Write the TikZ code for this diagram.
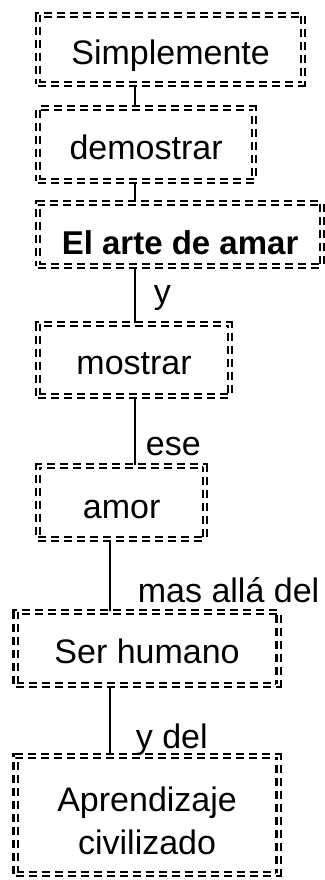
\documentclass[tikz,border=0pt]{standalone}
\usepackage{fontspec}
\setmainfont{Liberation Sans}
\usepackage{tikz}
\usetikzlibrary{positioning}

\begin{document}
\begin{tikzpicture}[
  x=1pt,y=-1pt,
  style1/.style={
    draw,
    double,
    double distance=2pt,
    line width=2.2pt,
    dash pattern=on 8pt off 5pt,
    anchor=north west,
    inner sep=0pt,
    align=center,
    minimum width=#1,
    font=\fontsize{34}{43}\selectfont,
    },
  style2/.style={
    inner sep=0pt,
    anchor=base west,
    font=\fontsize{34}{43}\selectfont,
    },
  ]
  \useasboundingbox (0,0) rectangle (324,880);

  \node[style1=265pt,text height=49pt,text depth=20pt]
    (1box) at (37,14) {Simplemente};
  \node[style1=216pt,text height=51pt,text depth=22pt]
    (2box) at (37,107) {demostrar};
  \node[style1=284pt,text height=51pt,text depth=12pt,
    font=\fontsize{33}{43}\selectfont\bfseries]
    (3box) at (37,202) {El arte de amar};
  \node[style1=192pt,text height=50pt,text depth=22pt]
    (4box) at (37,323) {mostrar};
  \node[style1=167pt,text height=52pt,text depth=21pt]
    (5box) at (37,465) {amor};
  \node[style1=263pt,text height=51pt,text depth=22pt]
    (6box) at (14.5,611) {Ser humano};
  \node[style1=263pt,text height=98pt,text depth=20pt]
    (7box) at (14.5,755) {Aprendizaje\\civilizado};

  \draw[line width=1.8pt]
    ([xshift=98pt]1box.south west) -- ([xshift=98pt]2box.north west);
  \draw[line width=1.8pt]
    ([xshift=98pt]2box.south west) -- ([xshift=98pt]3box.north west);
  \draw[line width=1.8pt]
    ([xshift=98pt]3box.south west) -- ([xshift=98pt]4box.north west)
    node[style2,xshift=18pt,yshift=20pt] (1lbl) {y};
  \draw[line width=1.8pt]
    ([xshift=98pt]4box.south west) -- ([xshift=98pt]5box.north west)
    node[style2,xshift=10pt,yshift=10pt] (2lbl) {ese};
  \draw[line width=1.8pt]
    ([xshift=73pt]5box.south west) -- ([xshift=95.5pt]6box.north west)
    node[style2,xshift=27pt,yshift=9pt] (3lbl) {mas allá del};
  \draw[line width=1.8pt]
    ([xshift=95.5pt]6box.south west) -- ([xshift=95.5pt]7box.north west)
    node[style2,xshift=25pt,yshift=7pt] (4lbl) {y del};
\end{tikzpicture}
\end{document}
